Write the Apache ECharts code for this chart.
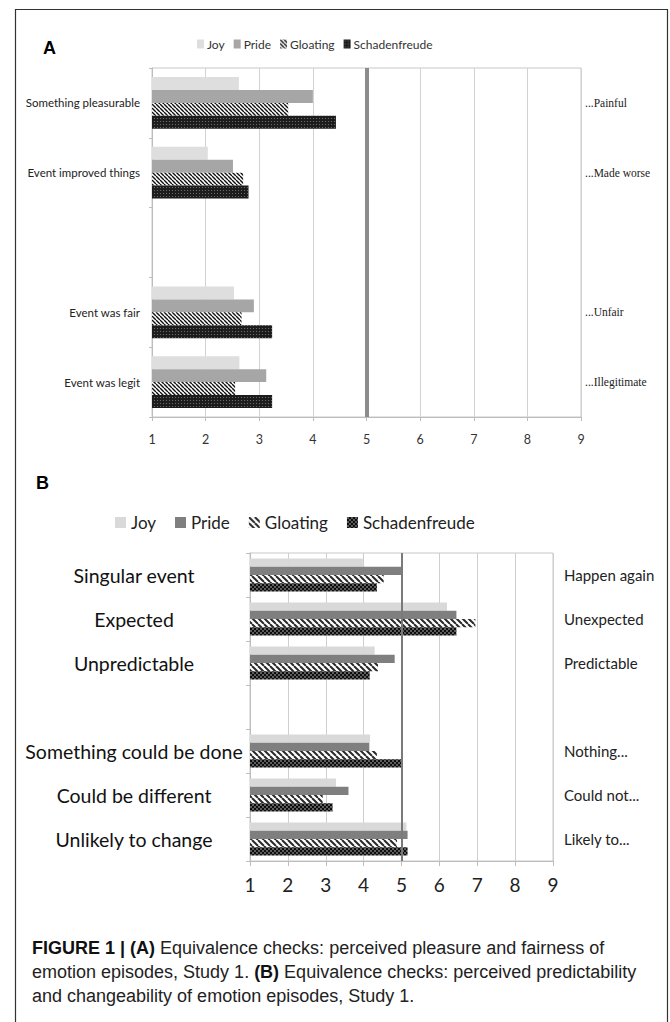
<!DOCTYPE html>
<html>
<head>
<meta charset="utf-8">
<script src="https://cdn.jsdelivr.net/npm/echarts@6/dist/echarts.min.js"></script>
<style>
html,body{margin:0;padding:0;background:#fff;}
#main{width:670px;height:1022px;}
</style>
</head>
<body>
<div id="main"></div>
<script>
// ---------- DATA ----------
const seriesNames = ['Joy', 'Pride', 'Gloating', 'Schadenfreude'];

const catsA  = ['Something pleasurable', 'Event improved things', '', 'Event was fair', 'Event was legit'];
const rightA = ['...Painful', '...Made worse', '', '...Unfair', '...Illegitimate'];
const joyA   = [2.62, 2.04, null, 2.53, 2.63];
const prideA = [4.00, 2.51, null, 2.90, 3.13];
const gloatA = [3.54, 2.70, null, 2.67, 2.55];
const schadA = [4.43, 2.80, null, 3.24, 3.24];

const catsB  = ['Singular event', 'Expected', 'Unpredictable', '', 'Something could be done', 'Could be different', 'Unlikely to change'];
const rightB = ['Happen again', 'Unexpected', 'Predictable', '', 'Nothing...', 'Could not...', 'Likely to...'];
const joyB   = [3.98, 6.20, 4.29, null, 4.17, 3.27, 5.13];
const prideB = [5.00, 6.45, 4.82, null, 4.15, 3.60, 5.16];
const gloatB = [4.53, 6.95, 4.38, null, 4.35, 2.92, 4.88];
const schadB = [4.35, 6.45, 4.16, null, 5.00, 3.18, 5.16];

const axisMin = 1, axisMax = 9, axisStep = 1;
const midpoint = 5;

// ---------- PATTERNS ----------
function stripe(s, lw, color) {
  const c = document.createElement('canvas'); c.width = s; c.height = s;
  const g = c.getContext('2d');
  g.fillStyle = '#fff'; g.fillRect(0, 0, s, s);
  g.strokeStyle = color; g.lineWidth = lw; g.beginPath();
  for (let k = -1; k <= 1; k++) { g.moveTo(k * s, 0); g.lineTo(k * s + s, s); }
  g.stroke();
  return { image: c, repeat: 'repeat', imageWidth: s, imageHeight: s };
}
function dots(s, bg, fg, pts, r) {
  const c = document.createElement('canvas'); c.width = s; c.height = s;
  const g = c.getContext('2d');
  g.fillStyle = bg; g.fillRect(0, 0, s, s);
  g.fillStyle = fg;
  pts.forEach(p => { g.beginPath(); g.arc(p[0], p[1], r, 0, Math.PI * 2); g.fill(); });
  return { image: c, repeat: 'repeat', imageWidth: s, imageHeight: s };
}

const colA = ['#dedede', '#a6a6a6', stripe(4, 1.4, '#111'), dots(3, '#1c1c1c', '#777', [[1.5, 1.5]], 0.6)];
const colB = ['#d9d9d9', '#7f7f7f', stripe(6, 2.0, '#2a2a2a'), dots(4, '#0d0d0d', '#d8d8d8', [[1, 1], [3, 3]], 0.75)];

const dataA = [joyA, prideA, gloatA, schadA];
const dataB = [joyB, prideB, gloatB, schadB];

function makeSeries(data, cols, gi, markW, markC, gap) {
  return seriesNames.map((n, i) => {
    const s = {
      name: n, type: 'bar', xAxisIndex: gi, yAxisIndex: gi * 2,
      data: data[i], barGap: '0%', barCategoryGap: gap,
      itemStyle: { color: cols[i] }, silent: true, animation: false
    };
    if (i === 0) {
      s.markLine = {
        silent: true, symbol: ['none', 'none'], label: { show: false },
        lineStyle: { color: markC, width: markW, type: 'solid' },
        data: [{ xAxis: midpoint }], animation: false
      };
    }
    return s;
  });
}

const chart = echarts.init(document.getElementById('main'), null, { renderer: 'svg' });

const option = {
  animation: false,
  backgroundColor: '#fff',
  grid: [
    { left: 152, top: 68, width: 429, height: 349, show: true, borderColor: '#c8c8c8', borderWidth: 1, containLabel: false },
    { left: 250, top: 553, width: 303, height: 308, show: true, borderColor: '#c8c8c8', borderWidth: 1, containLabel: false }
  ],
  legend: [
    {
      left: 192, top: 33, itemWidth: 7, itemHeight: 9, itemGap: 9,
      textStyle: { fontFamily: 'Lato', fontSize: 12, color: '#333', padding: [0, 0, 0, -2] },
      selectedMode: false,
      data: seriesNames.map((n, i) => ({ name: n, icon: 'rect', itemStyle: { color: colA[i] } }))
    },
    {
      left: 110, top: 509, itemWidth: 11, itemHeight: 11, itemGap: 19,
      textStyle: { fontFamily: 'Lato', fontSize: 17, color: '#222' },
      selectedMode: false,
      data: seriesNames.map((n, i) => ({ name: n, icon: 'rect', itemStyle: { color: colB[i] } }))
    }
  ],
  xAxis: [
    {
      gridIndex: 0, type: 'value', min: axisMin, max: axisMax, interval: axisStep,
      axisLine: { show: true, lineStyle: { color: '#bdbdbd' } },
      axisTick: { show: true, length: 4, lineStyle: { color: '#bdbdbd' } },
      splitLine: { show: true, lineStyle: { color: '#d2d2d2', width: 1 } },
      axisLabel: { fontFamily: 'Lato', fontSize: 12.5, color: '#333', margin: 16 }
    },
    {
      gridIndex: 1, type: 'value', min: axisMin, max: axisMax, interval: axisStep,
      axisLine: { show: true, lineStyle: { color: '#bdbdbd' } },
      axisTick: { show: true, length: 5, lineStyle: { color: '#bdbdbd' } },
      splitLine: { show: true, lineStyle: { color: '#cfcfcf', width: 1 } },
      axisLabel: { fontFamily: 'Lato', fontSize: 19, color: '#222', margin: 14 }
    }
  ],
  yAxis: [
    {
      gridIndex: 0, type: 'category', data: catsA, inverse: true,
      axisLine: { show: true, lineStyle: { color: '#bdbdbd' } },
      axisTick: { show: true, length: 3, lineStyle: { color: '#bdbdbd' } },
      axisLabel: { fontFamily: 'Lato', fontSize: 11.5, color: '#222', margin: 12 }
    },
    {
      gridIndex: 0, type: 'category', data: rightA, inverse: true, position: 'right',
      axisLine: { show: false }, axisTick: { show: false },
      axisLabel: { fontFamily: 'Liberation Serif', fontSize: 11.5, color: '#222', margin: 4 }
    },
    {
      gridIndex: 1, type: 'category', data: catsB, inverse: true,
      axisLine: { show: true, lineStyle: { color: '#bdbdbd' } },
      axisTick: { show: true, length: 4, lineStyle: { color: '#bdbdbd' } },
      axisLabel: { fontFamily: 'Lato', fontSize: 19.5, color: '#111', margin: 116, align: 'center' }
    },
    {
      gridIndex: 1, type: 'category', data: rightB, inverse: true, position: 'right',
      axisLine: { show: false }, axisTick: { show: false },
      axisLabel: { fontFamily: 'Lato', fontSize: 15, color: '#222', margin: 11 }
    }
  ],
  series: [].concat(
    makeSeries(dataA, colA, 0, 4, '#8c8c8c', '26%'),
    makeSeries(dataB, colB, 1, 2, '#7a7a7a', '25%')
  ),
  graphic: [
    { type: 'rect', silent: true, shape: { x: 15.5, y: 9.5, width: 652, height: 1030 },
      style: { fill: 'none', stroke: '#333', lineWidth: 1.2 }, z: 100 },
    { type: 'text', left: 43, top: 39, silent: true,
      style: { text: 'A', font: 'bold 18px "Liberation Sans"', fill: '#000' } },
    { type: 'text', left: 36, top: 474, silent: true,
      style: { text: 'B', font: 'bold 18px "Liberation Sans"', fill: '#000' } },
    { type: 'text', left: 32, top: 936, silent: true,
      style: {
        text: '{b|FIGURE 1 | (A)} Equivalence checks: perceived pleasure and fairness of\nemotion episodes, Study 1. {b|(B)} Equivalence checks: perceived predictability\nand changeability of emotion episodes, Study 1.',
        fontFamily: 'Liberation Sans', fontSize: 18, fill: '#222', lineHeight: 24,
        rich: { b: { fontFamily: 'Liberation Sans', fontWeight: 'bold', fontSize: 18, fill: '#111', lineHeight: 24 } }
      } }
  ]
};
chart.setOption(option);
</script>
</body>
</html>
